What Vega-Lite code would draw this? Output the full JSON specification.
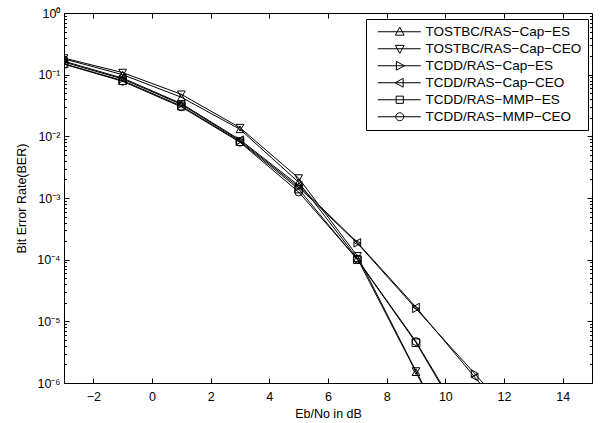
{
  "$schema": "https://vega.github.io/schema/vega-lite/v6.json",
  "width": 528,
  "height": 370,
  "autosize": {"type": "none"},
  "padding": {"left": 64, "top": 13, "right": 11, "bottom": 40},
  "background": "white",
  "config": {
    "view": {"stroke": "black", "strokeWidth": 1},
    "font": "Liberation Sans",
    "axis": {"labelColor": "black", "titleColor": "black", "tickColor": "black", "domain": false, "grid": false, "labelFont": "Liberation Sans", "titleFont": "Liberation Sans", "titleFontWeight": "normal", "labelFontSize": 12.5, "titleFontSize": 12.5}
  },
  "data": {"values": [
    {"x": -3, "ber": 0.18, "s": "TOSTBC/RAS−Cap−ES"},
    {"x": -1, "ber": 0.1, "s": "TOSTBC/RAS−Cap−ES"},
    {"x": 1, "ber": 0.043, "s": "TOSTBC/RAS−Cap−ES"},
    {"x": 3, "ber": 0.013, "s": "TOSTBC/RAS−Cap−ES"},
    {"x": 5, "ber": 0.0018, "s": "TOSTBC/RAS−Cap−ES"},
    {"x": 7, "ber": 0.000105, "s": "TOSTBC/RAS−Cap−ES"},
    {"x": 9, "ber": 0.0000015, "s": "TOSTBC/RAS−Cap−ES"},
    {"x": 11, "ber": 2e-8, "s": "TOSTBC/RAS−Cap−ES"},
    {"x": -3, "ber": 0.186, "s": "TOSTBC/RAS−Cap−CEO"},
    {"x": -1, "ber": 0.108, "s": "TOSTBC/RAS−Cap−CEO"},
    {"x": 1, "ber": 0.048, "s": "TOSTBC/RAS−Cap−CEO"},
    {"x": 3, "ber": 0.0138, "s": "TOSTBC/RAS−Cap−CEO"},
    {"x": 5, "ber": 0.0021, "s": "TOSTBC/RAS−Cap−CEO"},
    {"x": 7, "ber": 0.000115, "s": "TOSTBC/RAS−Cap−CEO"},
    {"x": 9, "ber": 0.00000156, "s": "TOSTBC/RAS−Cap−CEO"},
    {"x": 11, "ber": 2.5e-8, "s": "TOSTBC/RAS−Cap−CEO"},
    {"x": -3, "ber": 0.16, "s": "TCDD/RAS−Cap−ES"},
    {"x": -1, "ber": 0.085, "s": "TCDD/RAS−Cap−ES"},
    {"x": 1, "ber": 0.033, "s": "TCDD/RAS−Cap−ES"},
    {"x": 3, "ber": 0.0085, "s": "TCDD/RAS−Cap−ES"},
    {"x": 5, "ber": 0.0015, "s": "TCDD/RAS−Cap−ES"},
    {"x": 7, "ber": 0.000185, "s": "TCDD/RAS−Cap−ES"},
    {"x": 9, "ber": 0.000016, "s": "TCDD/RAS−Cap−ES"},
    {"x": 11, "ber": 0.00000142, "s": "TCDD/RAS−Cap−ES"},
    {"x": 13, "ber": 1.2e-7, "s": "TCDD/RAS−Cap−ES"},
    {"x": -3, "ber": 0.165, "s": "TCDD/RAS−Cap−CEO"},
    {"x": -1, "ber": 0.088, "s": "TCDD/RAS−Cap−CEO"},
    {"x": 1, "ber": 0.034, "s": "TCDD/RAS−Cap−CEO"},
    {"x": 3, "ber": 0.0088, "s": "TCDD/RAS−Cap−CEO"},
    {"x": 5, "ber": 0.0016, "s": "TCDD/RAS−Cap−CEO"},
    {"x": 7, "ber": 0.00019, "s": "TCDD/RAS−Cap−CEO"},
    {"x": 9, "ber": 0.000017, "s": "TCDD/RAS−Cap−CEO"},
    {"x": 11, "ber": 0.00000125, "s": "TCDD/RAS−Cap−CEO"},
    {"x": 13, "ber": 9e-8, "s": "TCDD/RAS−Cap−CEO"},
    {"x": -3, "ber": 0.15, "s": "TCDD/RAS−MMP−ES"},
    {"x": -1, "ber": 0.08, "s": "TCDD/RAS−MMP−ES"},
    {"x": 1, "ber": 0.031, "s": "TCDD/RAS−MMP−ES"},
    {"x": 3, "ber": 0.0082, "s": "TCDD/RAS−MMP−ES"},
    {"x": 5, "ber": 0.0014, "s": "TCDD/RAS−MMP−ES"},
    {"x": 7, "ber": 0.0001, "s": "TCDD/RAS−MMP−ES"},
    {"x": 9, "ber": 0.0000045, "s": "TCDD/RAS−MMP−ES"},
    {"x": 11, "ber": 1.1e-7, "s": "TCDD/RAS−MMP−ES"},
    {"x": -3, "ber": 0.148, "s": "TCDD/RAS−MMP−CEO"},
    {"x": -1, "ber": 0.078, "s": "TCDD/RAS−MMP−CEO"},
    {"x": 1, "ber": 0.03, "s": "TCDD/RAS−MMP−CEO"},
    {"x": 3, "ber": 0.008, "s": "TCDD/RAS−MMP−CEO"},
    {"x": 5, "ber": 0.00125, "s": "TCDD/RAS−MMP−CEO"},
    {"x": 7, "ber": 0.000102, "s": "TCDD/RAS−MMP−CEO"},
    {"x": 9, "ber": 0.0000047, "s": "TCDD/RAS−MMP−CEO"},
    {"x": 11, "ber": 1.2e-7, "s": "TCDD/RAS−MMP−CEO"}
  ]},
  "resolve": {"axis": {"x": "independent", "y": "independent"}, "scale": {"shape": "independent"}, "legend": {"shape": "independent"}},
  "layer": [
    {
      "mark": {"type": "line", "color": "black", "strokeWidth": 1, "clip": true},
      "encoding": {
        "x": {"field": "x", "type": "quantitative", "scale": {"domain": [-3, 15], "nice": false, "zero": false},
          "axis": {"orient": "bottom", "values": [-2, 0, 2, 4, 6, 8, 10, 12, 14], "tickSize": -5, "labelPadding": 12, "title": "Eb/No in dB", "titlePadding": 5}},
        "y": {"field": "ber", "type": "quantitative", "scale": {"type": "log", "domain": [0.000001, 1], "nice": false},
          "axis": {"orient": "left", "title": "Bit Error Rate(BER)", "titlePadding": 8,
            "values": [1e-6, 1e-5, 1e-4, 1e-3, 0.01, 0.1, 1],
            "tickSize": -5,
            "labelPadding": 9,
            "labelExpr": "'10' + (round(log(datum.value)/LN10) < 0 ? '⁻' : '') + substring('⁰¹²³⁴⁵⁶', abs(round(log(datum.value)/LN10)), abs(round(log(datum.value)/LN10)) + 1)"}},
        "detail": {"field": "s", "type": "nominal"}
      }
    },
    {
      "mark": {"type": "point", "filled": false, "stroke": "black", "strokeWidth": 1, "size": 60, "opacity": 1, "clip": true},
      "encoding": {
        "x": {"field": "x", "type": "quantitative", "axis": null},
        "y": {"field": "ber", "type": "quantitative",
          "axis": {"orient": "left", "labels": false, "title": null, "tickSize": -2.5,
            "values": [2e-6,3e-6,4e-6,5e-6,6e-6,7e-6,8e-6,9e-6,2e-5,3e-5,4e-5,5e-5,6e-5,7e-5,8e-5,9e-5,2e-4,3e-4,4e-4,5e-4,6e-4,7e-4,8e-4,9e-4,2e-3,3e-3,4e-3,5e-3,6e-3,7e-3,8e-3,9e-3,0.02,0.03,0.04,0.05,0.06,0.07,0.08,0.09,0.2,0.3,0.4,0.5,0.6,0.7,0.8,0.9]}},
        "shape": {"field": "s", "type": "nominal",
          "scale": {"domain": ["TOSTBC/RAS−Cap−ES", "TOSTBC/RAS−Cap−CEO", "TCDD/RAS−Cap−ES", "TCDD/RAS−Cap−CEO", "TCDD/RAS−MMP−ES", "TCDD/RAS−MMP−CEO"],
            "range": ["triangle-up", "triangle-down", "triangle-right", "triangle-left", "square", "circle"]},
          "legend": null}
      }
    },
    {
      "mark": {"type": "point", "filled": false, "stroke": "black", "opacity": 0, "clip": true},
      "encoding": {
        "x": {"field": "x", "type": "quantitative", "axis": {"orient": "top", "values": [-2, 0, 2, 4, 6, 8, 10, 12, 14], "tickSize": -5, "labels": false, "title": null}},
        "y": {"field": "ber", "type": "quantitative",
          "axis": {"orient": "right", "labels": false, "title": null, "values": [1e-6, 1e-5, 1e-4, 1e-3, 0.01, 0.1, 1], "tickSize": -5}},
        "shape": {"field": "s", "type": "nominal",
          "scale": {"domain": ["TOSTBC/RAS−Cap−ES", "TOSTBC/RAS−Cap−CEO", "TCDD/RAS−Cap−ES", "TCDD/RAS−Cap−CEO", "TCDD/RAS−MMP−ES", "TCDD/RAS−MMP−CEO"],
            "range": [
              "M-0.25,0H10.5M5.25,-1.15L6.35,0.85L4.15,0.85Z",
              "M-0.25,0H10.5M5.25,1.15L6.35,-0.85L4.15,-0.85Z",
              "M-0.25,0H10.5M6.4,0L4.4,1.1L4.4,-1.1Z",
              "M-0.25,0H10.5M4.1,0L6.1,1.1L6.1,-1.1Z",
              "M-0.25,0H10.5M4.35,-0.9H6.15V0.9H4.35Z",
              "M-0.25,0H10.5M6.25,0A1,1,0,1,1,4.25,0A1,1,0,1,1,6.25,0Z"]},
          "legend": {"title": null, "orient": "none", "legendX": 302, "legendY": 6, "padding": 6, "fillColor": "white", "strokeColor": "black", "cornerRadius": 0,
            "symbolSize": 64, "symbolStrokeColor": "black", "symbolStrokeWidth": 1, "symbolFillColor": "transparent", "symbolOpacity": 1,
            "labelFont": "Liberation Sans", "labelFontSize": 13.5, "labelColor": "black", "labelOffset": 40, "rowPadding": 2, "labelLimit": 300}}
      }
    },
    {
      "mark": {"type": "point", "opacity": 0},
      "encoding": {
        "x": {"field": "x", "type": "quantitative", "axis": null},
        "y": {"field": "ber", "type": "quantitative",
          "axis": {"orient": "right", "labels": false, "title": null, "tickSize": -2.5,
            "values": [2e-6,3e-6,4e-6,5e-6,6e-6,7e-6,8e-6,9e-6,2e-5,3e-5,4e-5,5e-5,6e-5,7e-5,8e-5,9e-5,2e-4,3e-4,4e-4,5e-4,6e-4,7e-4,8e-4,9e-4,2e-3,3e-3,4e-3,5e-3,6e-3,7e-3,8e-3,9e-3,0.02,0.03,0.04,0.05,0.06,0.07,0.08,0.09,0.2,0.3,0.4,0.5,0.6,0.7,0.8,0.9]}}
      }
    }
  ]
}
